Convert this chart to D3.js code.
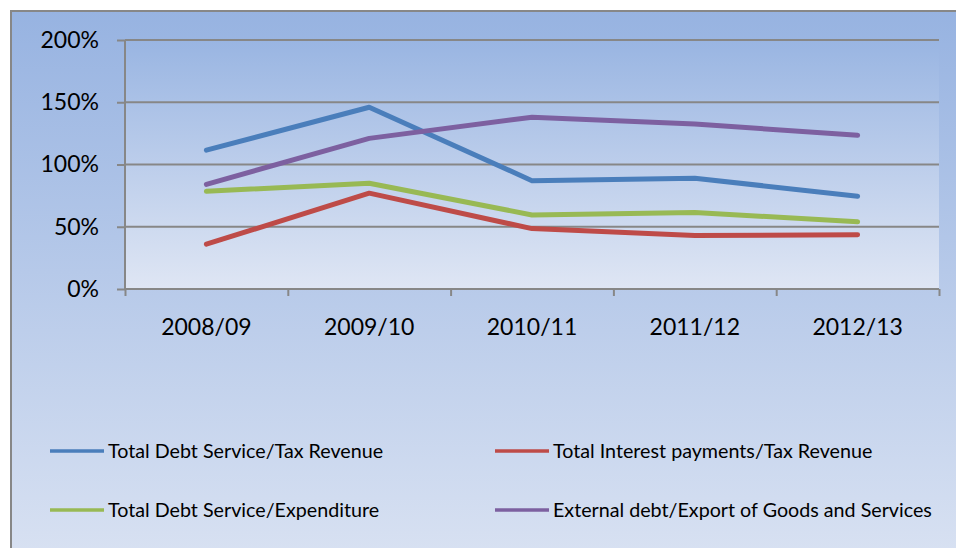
<html>
<head>
<script src="https://d3js.org/d3.v7.min.js"></script>
<style>
  body { margin: 0; background: #fff; }
  text { font-family: Lato, "Open Sans", sans-serif; fill: #000; }
</style>
</head>
<body>
<svg class="chart" width="956" height="548"></svg>
<script>
// data
const categories = ["2008/09", "2009/10", "2010/11", "2011/12", "2012/13"];
const debtServiceTax = [111.5, 146, 87, 89, 74.5];
const interestTax = [36, 77, 48.5, 43, 43.5];
const debtServiceExp = [78.5, 85, 59.5, 61.5, 54];
const externalExport = [84, 121, 138, 132.5, 123.5];
const yTicks = [0, 50, 100, 150, 200];

const seriesNames = ["Total Debt Service/Tax Revenue", "Total Interest payments/Tax Revenue",
                     "Total Debt Service/Expenditure", "External debt/Export of Goods and Services"];
const seriesColors = ["#4a7ebb", "#be4b48", "#98b954", "#7d60a0"];
const seriesValues = [debtServiceTax, interestTax, debtServiceExp, externalExport];

const svg = d3.select(".chart");
const defs = svg.append("defs");

function grad(id, c1, c2) {
  const g = defs.append("linearGradient").attr("id", id)
    .attr("x1", 0).attr("y1", 0).attr("x2", 0).attr("y2", 1);
  g.append("stop").attr("offset", "0%").attr("stop-color", c1);
  g.append("stop").attr("offset", "100%").attr("stop-color", c2);
}
grad("chartBg", "#97b3e1", "#dce4f3");
grad("plotBg", "#99b5e2", "#dfe6f4");

// chart area with border (runs past the right and bottom edge)
svg.append("rect")
  .attr("x", 11).attr("y", 11)
  .attr("width", 980).attr("height", 580)
  .attr("fill", "url(#chartBg)")
  .attr("stroke", "#878787").attr("stroke-width", 2);

const plotL = 125, plotR = 939, plotT = 40, plotB = 289;

const x = d3.scaleBand().domain(categories).range([plotL, plotR]).padding(0);
const xEdge = d3.scaleLinear().domain([0, categories.length]).range([plotL, plotR]);
const y = d3.scaleLinear().domain([0, 200]).range([plotB, plotT]);

svg.append("rect")
  .attr("x", plotL).attr("y", plotT)
  .attr("width", plotR - plotL).attr("height", plotB - plotT)
  .attr("fill", "url(#plotBg)");

// gridlines
svg.append("g")
  .selectAll("line")
  .data(yTicks.filter(d => d > 0))
  .enter().append("line")
    .attr("x1", plotL).attr("x2", plotR)
    .attr("y1", d => y(d)).attr("y2", d => y(d))
    .attr("stroke", "#878787").attr("stroke-width", 2);

// y axis
const yAxis = svg.append("g")
  .attr("transform", `translate(${plotL},0)`)
  .call(d3.axisLeft(y).tickValues(yTicks).tickFormat(d => d + "%").tickSize(8).tickPadding(18));
yAxis.selectAll("line, path").attr("stroke", "#878787").attr("stroke-width", 2);
yAxis.select("path").attr("d", `M0,${plotT}V${plotB}`);
yAxis.selectAll("text").attr("font-size", 23).attr("font-family", "Lato");

// x axis: ticks between categories
const xTicks = svg.append("g")
  .attr("transform", `translate(0,${plotB})`)
  .call(d3.axisBottom(xEdge).tickValues(d3.range(categories.length + 1)).tickFormat("").tickSize(7));
xTicks.selectAll("line, path").attr("stroke", "#878787").attr("stroke-width", 2);
xTicks.select("path").attr("d", `M${plotL},0H${plotR}`);

const xLabels = svg.append("g")
  .attr("transform", `translate(0,${plotB})`)
  .call(d3.axisBottom(x).tickSize(0).tickPadding(30));
xLabels.select("path").remove();
xLabels.selectAll("text").attr("font-size", 23).attr("font-family", "Lato");

// lines
const line = d3.line()
  .x((d, i) => x(categories[i]) + x.bandwidth() / 2)
  .y(d => y(d));

svg.append("g")
  .selectAll("path")
  .data(seriesValues)
  .enter().append("path")
    .attr("d", d => line(d))
    .attr("fill", "none")
    .attr("stroke", (d, i) => seriesColors[i])
    .attr("stroke-width", 5)
    .attr("stroke-linecap", "round")
    .attr("stroke-linejoin", "round");

// legend
const legendPos = [[50, 451], [495, 451], [50, 510], [495, 510]];
const legend = svg.append("g")
  .selectAll("g")
  .data(seriesNames)
  .enter().append("g")
    .attr("transform", (d, i) => `translate(${legendPos[i][0]},${legendPos[i][1]})`);
legend.append("line")
  .attr("x1", 0).attr("x2", 54)
  .attr("stroke", (d, i) => seriesColors[i])
  .attr("stroke-width", 3.5);
legend.append("text")
  .attr("x", 58)
  .attr("dy", "0.35em")
  .attr("font-size", 19.7)
  .text(d => d);
</script>
</body>
</html>
